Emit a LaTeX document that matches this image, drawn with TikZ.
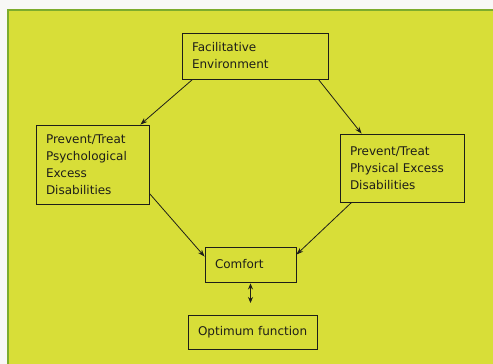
\documentclass[tikz,border=0pt]{standalone}
\usepackage{fontspec}
\setmainfont{DejaVu Sans}
\usetikzlibrary{arrows.meta}
\definecolor{paper}{RGB}{248,248,246}
\definecolor{sheet}{RGB}{216,222,56}
\definecolor{sheetedge}{RGB}{125,172,45}
\definecolor{ink}{RGB}{30,30,25}
\begin{document}
\begin{tikzpicture}[x=1pt,y=-1pt,
    box/.style={draw=ink,line width=0.9pt,inner xsep=10pt,inner ysep=0pt,
      align=left,font=\fontsize{12}{17}\selectfont,text=ink},
    link/.style={draw=ink,line width=0.8pt,-{Stealth[length=7pt,width=5pt]}}]
  \useasboundingbox (0,0) rectangle (493,364);
  \fill[paper] (0,0) rectangle (493,364);
  \draw[sheetedge,line width=2pt,fill=sheet] (8,10) rectangle (500,370);
  \draw
    (255,56) node[box,text width=126pt,minimum height=46pt] (fac)
      {Facilitative\\Environment}
    (92.5,164.5) node[box,text width=93pt,minimum height=79pt] (psy)
      {Prevent/Treat\\Psychological\\Excess\\Disabilities}
    (402,168) node[box,text width=104pt,minimum height=68pt] (phy)
      {Prevent/Treat\\Physical Excess\\Disabilities}
    (250.5,264.5) node[box,text width=71pt,minimum height=35pt] (com) {Comfort}
    (252.5,332) node[box,text width=109pt,minimum height=34pt] (opt) {\mbox{Optimum function}};
  \coordinate (mid) at (250.5,303);
  \begin{scope}
    \draw[link] ([xshift=11pt]fac.south west) to ([xshift=-9pt]psy.north east);
    \draw[link] ([xshift=-10pt]fac.south east) to ([xshift=22pt]phy.north west);
    \draw[link] ([yshift=11pt]psy.south east) to ([yshift=-10pt]com.north west);
    \draw[link] ([xshift=12pt]phy.south west) to ([yshift=-8pt]com.north east);
    \draw[link,{Stealth[length=6pt,width=5pt]}-{Stealth[length=6pt,width=5pt]}] ([yshift=-1pt]com.south) to (mid);
  \end{scope}
\end{tikzpicture}
\end{document}
